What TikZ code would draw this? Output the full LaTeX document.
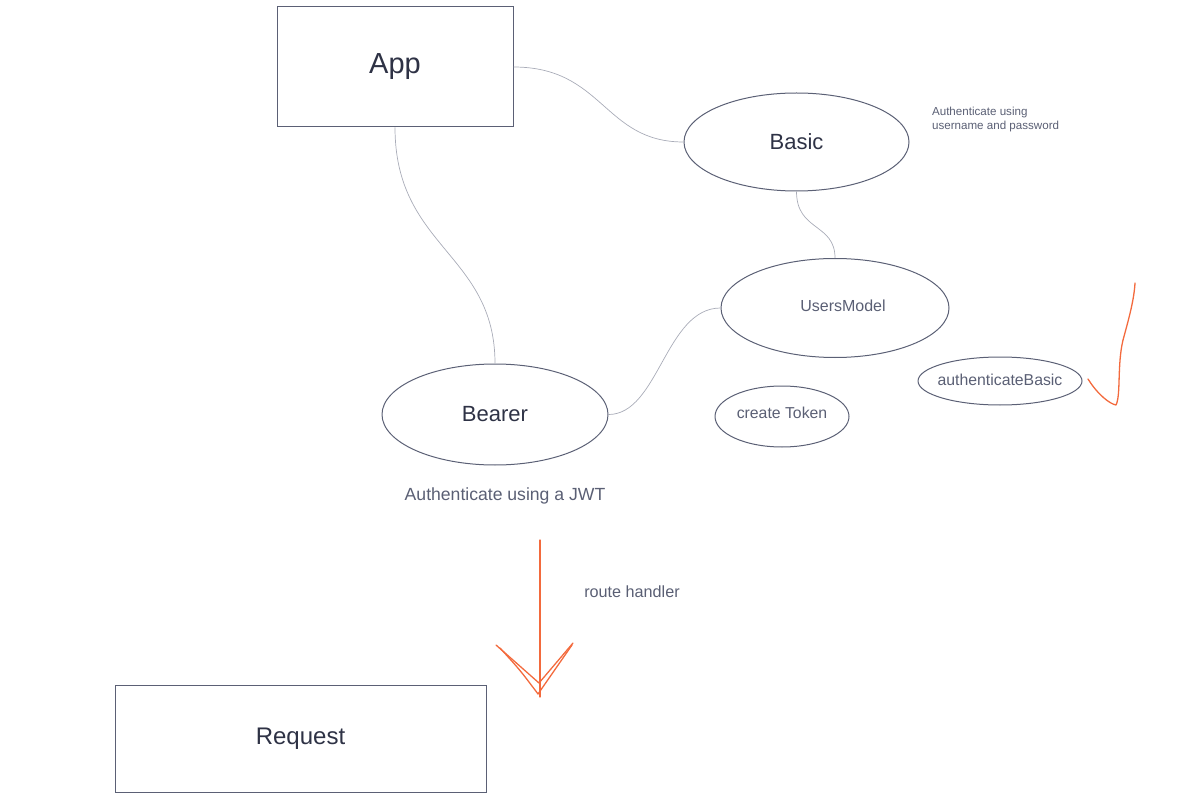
\documentclass[tikz,border=0pt]{standalone}
\usepackage{fontspec}
\setmainfont{Liberation Sans}
\usepackage{xcolor}
\usetikzlibrary{shapes.geometric}
\definecolor{inkline}{HTML}{5B6075}
\definecolor{inktext}{HTML}{2E3245}
\definecolor{softtext}{HTML}{5A5F74}
\definecolor{wireline}{HTML}{A9ACB8}
\definecolor{penorange}{HTML}{F36A3D}
\begin{document}
\begin{tikzpicture}[x=0.5pt, y=-0.5pt,
        box/.style={draw=inkline, line width=0.5pt, text=inktext},
        blob/.style={ellipse, draw=inkline, line width=0.5pt, text=softtext, inner sep=0pt},
        wire/.style={draw=wireline, line width=0.35pt},
        pen/.style={draw=penorange, line width=0.65pt, line cap=round, line join=round},
        note/.style={text=softtext, align=left}
    ]
    \useasboundingbox (0,0) rectangle (1192,807);

        % Riquadri
        \node[box, minimum width=118pt, minimum height=60pt, font=\fontsize{14.5}{16}\selectfont] (app) at (395,67) {\raisebox{2pt}{App}};
        \node[box, minimum width=185.5pt, minimum height=53.5pt, font=\fontsize{12}{14}\selectfont] (request) at (300.5,738.5) {Request};

        % Ellissi
        \node[blob, minimum width=112.5pt, minimum height=49pt, font=\fontsize{11}{13}\selectfont, text=inktext] (basic) at (796.5,142) {Basic};
        \node[blob, minimum width=114pt, minimum height=49.5pt, font=\fontsize{8}{10}\selectfont] (users) at (835,308) {\hspace*{8pt}\raisebox{2pt}{UsersModel}};
        \node[blob, minimum width=82pt, minimum height=24pt, inner xsep=-2.5pt, font=\fontsize{7.9}{9}\selectfont] (authbasic) at (1000,381) {\raisebox{1pt}{authenticateBasic}};
        \node[blob, minimum width=67pt, minimum height=30.5pt, font=\fontsize{7.9}{9}\selectfont] (token) at (782,416.5) {\raisebox{4pt}{create Token}};
        \node[blob, minimum width=113pt, minimum height=50.5pt, font=\fontsize{11}{13}\selectfont, text=inktext] (bearer) at (495,414.5) {Bearer};

        % Note
        \node[note, font=\fontsize{5.8}{7}\selectfont, anchor=west] (basicnote) at (925,120) {Authenticate using\\username and password};
        \node[note, font=\fontsize{8.8}{10}\selectfont] (jwtnote) at (505,496) {Authenticate using a JWT};
        \node[note, font=\fontsize{8.1}{9}\selectfont] (routenote) at (632,592) {route handler};

        % Collegamenti
        \draw[wire] (app.east) .. controls +(90,0) and +(-80,0) .. (basic.west);
        \draw[wire] (app.south) .. controls +(0,120) and +(0,-110) .. (bearer.north);
        \draw[wire] (basic.south) .. controls +(0,40) and +(0,-35) .. (users.north);
        \draw[wire] (bearer.east) .. controls +(50,0) and +(-55,0) .. (users.west);

        % Tratti a mano
        \coordinate (penA) at (540,540);
        \coordinate (penB) at (540,697);
        \draw[pen] (penA) -- (penB);
        \draw[pen] (496,645) -- (539,683) -- (573,643);
        \draw[pen] (500,648) .. controls (520,670) .. (538,694) -- (572,645);
        \draw[pen] (1088,379) .. controls (1098,395) and (1110,404) .. (1116,405)
                   .. controls (1121,395) and (1117,365) .. (1123,340)
                   .. controls (1129,318) and (1134,300) .. (1135,283);
\end{tikzpicture}
\end{document}
